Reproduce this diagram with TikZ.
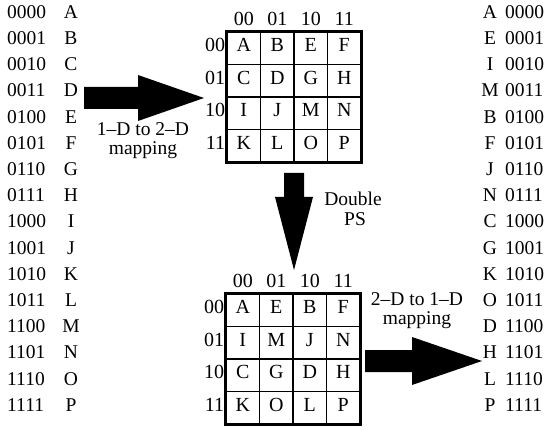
\documentclass[tikz,border=0pt]{standalone}
\usepackage{fontspec}
\setmainfont{Liberation Serif}
\begin{document}
\begin{tikzpicture}[x=1pt,y=-1pt,
  txt/.style={inner sep=0pt, text height=0.66em, text depth=0pt,
              font=\fontsize{19.5}{19.5}\selectfont},
  gtxt/.style={inner sep=0pt, text height=0.66em, text depth=0pt,
              font=\fontsize{20}{20}\selectfont},
  cell/.style={draw, line width=1.3pt, minimum width=33.5pt, minimum height=32.5pt,
               inner sep=0pt, text height=0.66em, text depth=0pt,
               font=\fontsize{20}{20}\selectfont},
  frame/.style={draw, line width=2.2pt},
  blockarrow/.style={fill=black}]
\useasboundingbox (0,0) rectangle (553,430);

% 1-D ordering on the left
\foreach \code/\ch [count=\i from 0] in
  {0000/A,0001/B,0010/C,0011/D,0100/E,0101/F,0110/G,0111/H,
   1000/I,1001/J,1010/K,1011/L,1100/M,1101/N,1110/O,1111/P}{
  \node[txt, anchor=west] (lc\i) at (7, 15+26.2*\i) {\code};
  \node[txt] (ll\i) at (71, 15+26.2*\i) {\ch};
}

% 1-D ordering on the right (after double perfect shuffle)
\foreach \code/\ch [count=\i from 0] in
  {0000/A,0001/E,0010/I,0011/M,0100/B,0101/F,0110/J,0111/N,
   1000/C,1001/G,1010/K,1011/O,1100/D,1101/H,1110/L,1111/P}{
  \node[txt] (rl\i) at (490, 15+26.2*\i) {\ch};
  \node[txt, anchor=west] (rc\i) at (505, 15+26.2*\i) {\code};
}

% top 2-D grid
\foreach \ch [count=\k from 0] in {A,B,E,F,C,D,G,H,I,J,M,N,K,L,O,P}{
  \pgfmathtruncatemacro{\r}{int(\k/4)}
  \pgfmathtruncatemacro{\c}{mod(\k,4)}
  \node[cell] (t-\r-\c) at (227+33.5*\c+16.75, 32+32.5*\r+16.25) {\ch};
}
\draw[frame] (t-0-0.north west) rectangle (t-3-3.south east);

% bottom 2-D grid
\foreach \ch [count=\k from 0] in {A,E,B,F,I,M,J,N,C,G,D,H,K,O,L,P}{
  \pgfmathtruncatemacro{\r}{int(\k/4)}
  \pgfmathtruncatemacro{\c}{mod(\k,4)}
  \node[cell] (b-\r-\c) at (226+33.5*\c+16.75, 294+32.5*\r+16.25) {\ch};
}
\draw[frame] (b-0-0.north west) rectangle (b-3-3.south east);

% row and column indices
\foreach \lab [count=\j from 0] in {00,01,10,11}{
  \node[gtxt, anchor=south] (tch\j) at ([yshift=6pt]t-0-\j.north) {\lab};
  \node[gtxt, anchor=east] (trh\j) at ([xshift=-1pt]t-\j-0.west) {\lab};
  \node[gtxt, anchor=south] (bch\j) at ([yshift=6pt]b-0-\j.north) {\lab};
  \node[gtxt, anchor=east] (brh\j) at ([xshift=-1pt]b-\j-0.west) {\lab};
}

% block arrows
\fill[blockarrow] (84,87) -- (138,87) -- (138,75) -- (204,98) -- (138,121)
  -- (138,109) -- (84,109) -- cycle;
\fill[blockarrow] (284,173) -- (304,173) -- (304,197) -- (313,197) -- (294,270)
  -- (275,197) -- (284,197) -- cycle;
\fill[blockarrow] (365,350) -- (412,350) -- (412,337) -- (482,361) -- (412,385)
  -- (412,372) -- (365,372) -- cycle;

% arrow labels
\node[txt] (m1a) at (143,132) {1--D to 2--D};
\node[txt] (m1b) at (143,151) {mapping};
\node[txt] (ps1) at (353,202) {Double};
\node[txt] (ps2) at (355,222) {PS};
\node[txt] (m2a) at (417,302) {2--D to 1--D};
\node[txt] (m2b) at (417,321) {mapping};
\end{tikzpicture}
\end{document}
